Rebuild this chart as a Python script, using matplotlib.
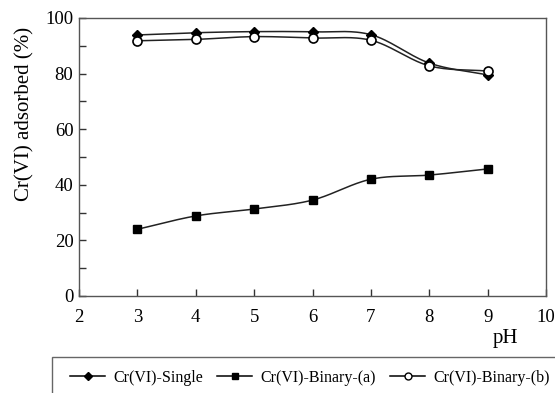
import numpy as np
import matplotlib
matplotlib.use("Agg")
import matplotlib.pyplot as plt
from matplotlib.patches import Rectangle
from matplotlib.lines import Line2D

plt.rcParams["font.family"] = ["Liberation Serif", "DejaVu Serif"]

ph = [3, 4, 5, 6, 7, 8, 9]
single = [93.9, 94.7, 95.1, 95.0, 94.0, 83.8, 79.5]
binary_a = [24.0, 28.8, 31.3, 34.5, 42.0, 43.5, 45.7]
binary_b = [91.8, 92.3, 93.3, 92.8, 92.0, 82.8, 80.9]

labels = ["Cr(VI)-Single", "Cr(VI)-Binary-(a)", "Cr(VI)-Binary-(b)"]
markers = ["D", "s", "o"]


def smooth(x, y, n=30):
    # catmull-rom curve through the measured points, just for drawing
    x = np.asarray(x, float)
    y = np.asarray(y, float)
    px = np.concatenate([[2 * x[0] - x[1]], x, [2 * x[-1] - x[-2]]])
    py = np.concatenate([[2 * y[0] - y[1]], y, [2 * y[-1] - y[-2]]])
    xs, ys = [], []
    t = np.linspace(0, 1, n)
    for i in range(1, len(px) - 2):
        for p, out in ((px, xs), (py, ys)):
            p0, p1, p2, p3 = p[i - 1], p[i], p[i + 1], p[i + 2]
            out.extend(0.5 * (2 * p1 + (-p0 + p2) * t
                              + (2 * p0 - 5 * p1 + 4 * p2 - p3) * t ** 2
                              + (-p0 + 3 * p1 - 3 * p2 + p3) * t ** 3))
    return xs, ys


fig = plt.figure(figsize=(5.55, 3.93), dpi=100)
ax = fig.add_axes([79 / 555, 1 - 296 / 393, 467 / 555, 278 / 393])

series = [single, binary_a, binary_b]
for vals, m in zip(series, markers):
    sx, sy = smooth(ph, vals)
    ax.plot(sx, sy, color="#222222", lw=1.1, zorder=2)
    if m == "o":
        ax.plot(ph, vals, m, ms=6.5, mfc="white", mec="black", mew=1.2, zorder=3)
    elif m == "D":
        ax.plot(ph, vals, m, ms=5.5, color="black", zorder=3)
    else:
        ax.plot(ph, vals, m, ms=6, color="black", zorder=3)

ax.set_xlim(2, 10)
ax.set_ylim(0, 100)
ax.set_xticks([2, 3, 4, 5, 6, 7, 8, 9, 10])
ax.set_yticks([0, 20, 40, 60, 80, 100])
ax.set_yticks([10, 30, 50, 70, 90], minor=True)
ax.tick_params(direction="in", length=5, width=1, labelsize=13.5, color="#333333")
ax.tick_params(axis="x", pad=9)
ax.tick_params(axis="y", pad=4)
ax.tick_params(which="minor", direction="in", length=5, width=1, color="#333333")
for t in ax.xaxis.get_major_ticks():
    if t.get_loc() in (2, 10):
        t.tick1line.set_visible(False)
for s in ax.spines.values():
    s.set_color("#555555")
    s.set_linewidth(1.0)

ax.set_ylabel("Cr(VI) adsorbed (%)", fontsize=15)
ax.yaxis.set_label_coords(-0.095, 0.655)
fig.text(505 / 555, 1 - 338 / 393, "pH", fontsize=15, ha="center", va="center")

# legend box runs off the right and bottom edges
fig.patches.append(Rectangle((52 / 555, -0.1), 1.0, 1 - 357 / 393 + 0.1,
                             transform=fig.transFigure, fill=False,
                             edgecolor="#666666", lw=1.0, clip_on=False))
handles = [
    Line2D([], [], color="black", lw=1.1, marker="D", ms=4.5),
    Line2D([], [], color="black", lw=1.1, marker="s", ms=5),
    Line2D([], [], color="black", lw=1.1, marker="o", ms=5, mfc="white"),
]
fig.legend(handles, labels, loc="center left", bbox_to_anchor=(70 / 555, 1 - 378 / 393),
           ncol=3, frameon=False, fontsize=11.5, handlelength=2.2,
           handletextpad=0.5, columnspacing=0.9, borderpad=0, borderaxespad=0)

fig.savefig("out.png", dpi=100)
